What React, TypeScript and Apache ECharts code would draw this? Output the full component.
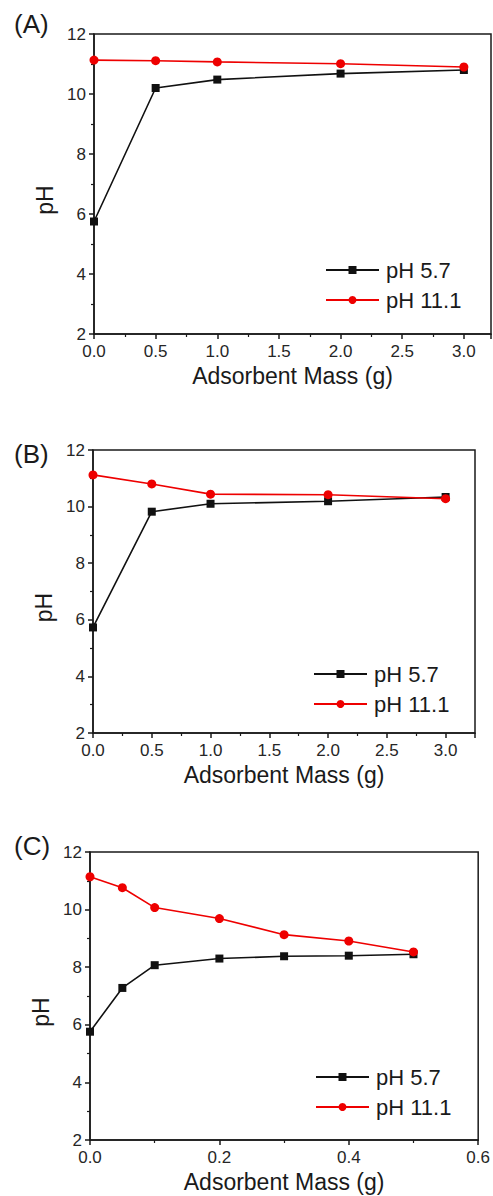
import React, { useEffect, useRef } from "react";
import * as echarts from "echarts";

const massAB = [0, 0.5, 1, 2, 3];
const massC = [0, 0.05, 0.1, 0.2, 0.3, 0.4, 0.5];

const aLow = [5.75, 10.2, 10.48, 10.68, 10.8];
const aHigh = [11.13, 11.11, 11.07, 11.01, 10.9];

const bLow = [5.73, 9.82, 10.1, 10.19, 10.34];
const bHigh = [11.12, 10.8, 10.44, 10.42, 10.28];

const cLow = [5.76, 7.28, 8.07, 8.3, 8.38, 8.4, 8.45];
const cHigh = [11.14, 10.76, 10.07, 9.69, 9.13, 8.91, 8.53];

const panelLabels = ["(A)", "(B)", "(C)"];
const seriesNames = ["pH 5.7", "pH 11.1"];
const xTitle = "Adsorbent Mass (g)";
const yTitle = "pH";

const FONT = "'Liberation Sans', Arial, sans-serif";
const INK = "#1a1a1a";

export default function App() {
  const ref = useRef<HTMLDivElement>(null);
  useEffect(() => {
    if (!ref.current) return;
    const chart = echarts.init(ref.current, undefined, { renderer: "svg" });

    const grids = [
      { left: 94, top: 34, width: 397, height: 300 },
      { left: 93, top: 450, width: 382, height: 283 },
      { left: 90, top: 852, width: 389, height: 288 },
    ];
    const xCfg = [
      { max: 3.22, interval: 0.5, showMax: false },
      { max: 3.25, interval: 0.5, showMax: false },
      { max: 0.6, interval: 0.2, showMax: true },
    ];
    const panelTops = [11, 441, 833];
    const legendPos = [
      { left: 325, top: 259 },
      { left: 313, top: 663 },
      { left: 315, top: 1066 },
    ];

    const xAxis = grids.map((_, i) => ({
      type: "value",
      gridIndex: i,
      min: 0,
      max: xCfg[i].max,
      interval: xCfg[i].interval,
      name: xTitle,
      nameLocation: "middle",
      nameGap: 30,
      nameTextStyle: { fontFamily: FONT, fontSize: 23, color: INK },
      axisLine: { show: true, lineStyle: { color: INK, width: 1.5 } },
      axisTick: { show: true, inside: false, length: 5, lineStyle: { color: INK, width: 1.5 } },
      minorTick: { show: true, splitNumber: 2, length: 3, lineStyle: { color: INK, width: 1.2 } },
      splitLine: { show: false },
      axisLabel: {
        fontFamily: FONT,
        fontSize: 17,
        lineHeight: 17,
        color: "#262626",
        margin: 9,
        showMaxLabel: xCfg[i].showMax,
        formatter: (v: number) => v.toFixed(1),
      },
    }));

    const yAxis = grids.map((_, i) => ({
      type: "value",
      gridIndex: i,
      min: 2,
      max: 12,
      interval: 2,
      name: yTitle,
      nameLocation: "middle",
      nameGap: 38,
      nameTextStyle: { fontFamily: FONT, fontSize: 23, color: INK, padding: [0, 32, 0, 0] },
      axisLine: { show: true, lineStyle: { color: INK, width: 1.5 } },
      axisTick: { show: true, inside: false, length: 5, lineStyle: { color: INK, width: 1.5 } },
      minorTick: { show: true, splitNumber: 2, length: 3, lineStyle: { color: INK, width: 1.2 } },
      splitLine: { show: false },
      axisLabel: { fontFamily: FONT, fontSize: 17, lineHeight: 17, color: "#262626", margin: 8 },
    }));

    const datasets = [
      [massAB, aLow, aHigh],
      [massAB, bLow, bHigh],
      [massC, cLow, cHigh],
    ];

    const series: any[] = [];
    datasets.forEach(([xs, lo, hi], i) => {
      series.push({
        type: "line",
        name: seriesNames[0],
        xAxisIndex: i,
        yAxisIndex: i,
        data: xs.map((x, k) => [x, lo[k]]),
        symbol: "rect",
        symbolSize: 8,
        lineStyle: { color: "#111111", width: 1.6 },
        itemStyle: { color: "#111111" },
        z: 3,
      });
      series.push({
        type: "line",
        name: seriesNames[1],
        xAxisIndex: i,
        yAxisIndex: i,
        data: xs.map((x, k) => [x, hi[k]]),
        symbol: "circle",
        symbolSize: 9,
        lineStyle: { color: "#ee0000", width: 1.6 },
        itemStyle: { color: "#ee0000" },
        z: 4,
      });
    });

    const legend = legendPos.map((p) => ({
      orient: "vertical",
      left: p.left,
      top: p.top,
      padding: 0,
      itemWidth: 53,
      itemHeight: 10,
      itemGap: 8,
      textStyle: { fontFamily: FONT, fontSize: 22, lineHeight: 22, color: INK, padding: [0, 0, 0, 2] },
      data: seriesNames,
      selectedMode: false,
    }));

    const graphic = panelLabels.map((t, i) => ({
      type: "text",
      left: 14,
      top: panelTops[i],
      style: { text: t, fontFamily: FONT, fontSize: 26, fill: INK },
    }));

    chart.setOption({
      animation: false,
      backgroundColor: "#ffffff",
      grid: grids.map((g) => ({
        ...g,
        show: true,
        borderColor: INK,
        borderWidth: 1.5,
        backgroundColor: "transparent",
      })),
      xAxis,
      yAxis,
      series,
      legend,
      graphic,
    });
    return () => chart.dispose();
  }, []);

  return (
    <div
      ref={ref}
      style={{ position: "absolute", left: 0, top: 0, width: 493, height: 1196, background: "#fff" }}
    />
  );
}
